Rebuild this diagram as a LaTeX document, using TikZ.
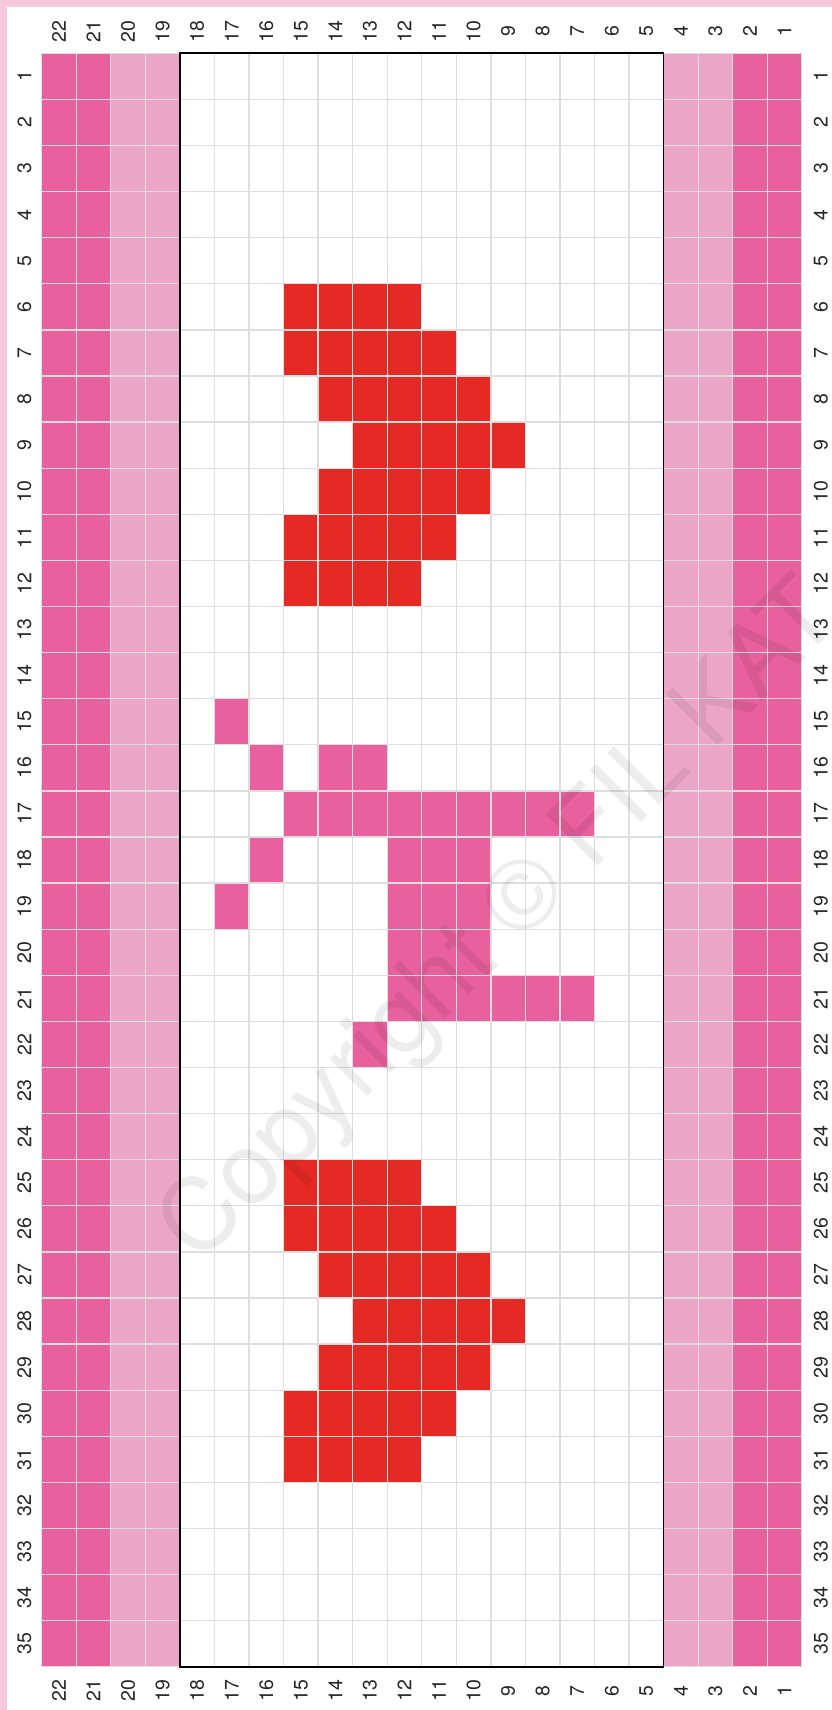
\documentclass[tikz,border=0pt]{standalone}
\usepackage{fontspec}
\setmainfont{TeX Gyre Heros}
\usepackage{tikz}
\usepackage{xcolor}
\definecolor{darkpink}{RGB}{232,96,158}
\definecolor{lightpink}{RGB}{235,166,199}
\definecolor{heartred}{RGB}{229,42,37}
\definecolor{framepink}{RGB}{246,202,219}
\definecolor{gridgray}{RGB}{222,222,222}
\tikzset{
    darkcell/.style={
        fill=darkpink
    },
    lightcell/.style={
        fill=lightpink
    },
    redcell/.style={
        fill=heartred
    },
    gridline/.style={
        draw=gridgray,
        line width=1.3pt
    },
    motifbox/.style={
        draw=black,
        line width=1.6pt
    },
    numlabel/.style={
        rotate=90,
        inner sep=0pt,
        text=black!85,
        font=\fontsize{19.5}{22}\selectfont
    },
    watermark/.style={
        rotate=45,
        inner sep=0pt,
        anchor=base west,
        text=black,
        text opacity=0.07,
        font=\fontsize{100}{120}\selectfont
    }
}
% one chart square: column, row, style
\newcommand{\stitch}[3]{\fill[#3] ({22-#1},{#2-1}) rectangle ++(1,1);}

\begin{document}
\begin{tikzpicture}
    \useasboundingbox (0,0) rectangle (832pt,-1710pt);
    % Page frame
    \fill[framepink] (0,0) rectangle (832pt,-7pt);
    \fill[framepink] (0,0) rectangle (7pt,-1710pt);

    \begin{scope}[shift={(41.7pt,-53.3pt)}, x=34.55pt, y=-46.1pt]
    % Side bands
    \foreach \c in {1,2,21,22} {\fill[darkcell] ({22-\c},0) rectangle ++(1,35);}
    \foreach \c in {3,4,19,20} {\fill[lightcell] ({22-\c},0) rectangle ++(1,35);}

    % Hearts (rows 6-12 and 25-31)
    \foreach \r/\a/\b in {6/12/15, 7/11/15, 8/10/14, 9/9/13, 10/10/14, 11/11/15, 12/12/15} {
        \foreach \c in {\a,...,\b} {
            \stitch{\c}{\r}{redcell}
            \stitch{\c}{\r+19}{redcell}
        }
    }

    % Middle motif
    \stitch{17}{15}{darkcell}
    \stitch{16}{16}{darkcell}
    \stitch{14}{16}{darkcell}
    \stitch{13}{16}{darkcell}
    \foreach \c in {7,...,15} {\stitch{\c}{17}{darkcell}}
    \stitch{16}{18}{darkcell}
    \stitch{17}{19}{darkcell}
    \foreach \r in {18,19,20} {
        \foreach \c in {10,11,12} {\stitch{\c}{\r}{darkcell}}
    }
    \foreach \c in {7,...,12} {\stitch{\c}{21}{darkcell}}
    \stitch{13}{22}{darkcell}

    % Grid
    \foreach \i in {0,...,22} {\draw[gridline] (\i,0) -- (\i,35);}
    \foreach \j in {0,...,35} {\draw[gridline] (0,\j) -- (22,\j);}
    \draw[motifbox] (4,0) rectangle (18,35);

    % Column and row numbers
    \foreach \c in {1,...,22} {
        \node[numlabel] (top-\c) at ({22-\c+0.5},-0.48) {\c};
        \node[numlabel] (bot-\c) at ({22-\c+0.5},35.52) {\c};
    }
    \foreach \r in {1,...,35} {
        \node[numlabel] (left-\r) at (-0.5,{\r-0.5}) {\r};
        \node[numlabel] (right-\r) at (22.55,{\r-0.5}) {\r};
    }
    \end{scope}

    % Watermark
    \node[watermark] (mark) at (198pt,-1266pt) {Copyright © FIL KAT};
\end{tikzpicture}
\end{document}
